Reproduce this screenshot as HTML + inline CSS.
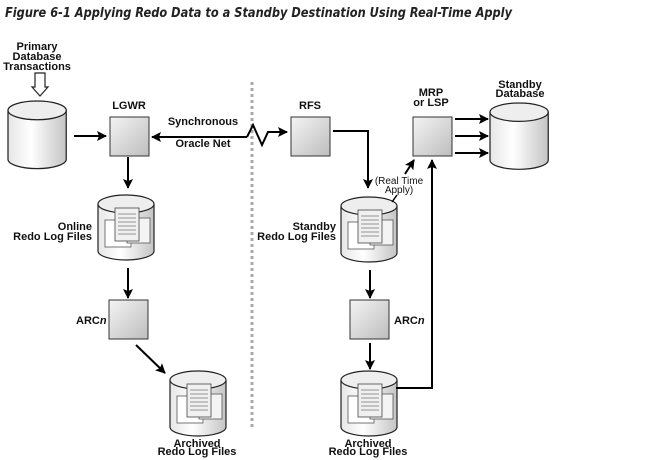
<!DOCTYPE html>
<html><head><meta charset="utf-8"><style>
html,body{margin:0;padding:0;background:#fff;}
svg{display:block;}
text{font-family:"Liberation Sans",Arial,sans-serif;font-weight:bold;font-size:11px;fill:#111;}
</style></head><body>
<svg width="661" height="460" viewBox="0 0 661 460" xmlns="http://www.w3.org/2000/svg">
<defs>
<linearGradient id="bx" x1="0" y1="0" x2="1" y2="1"><stop offset="0" stop-color="#f4f4f4"/><stop offset="1" stop-color="#bdbdbd"/></linearGradient>
<linearGradient id="cy" x1="0" y1="0" x2="1" y2="0"><stop offset="0" stop-color="#e6e6e6"/><stop offset="0.4" stop-color="#ffffff"/><stop offset="1" stop-color="#c4c4c4"/></linearGradient>
<marker id="ah" markerWidth="10" markerHeight="10" refX="9" refY="5" orient="auto" markerUnits="userSpaceOnUse"><path d="M0,0 L10,5 L0,10 L2,5 Z" fill="#000"/></marker>
<g id="cyl">
<path d="M0,9 L0,56 A28,9 0 0 0 56,56 L56,9" fill="url(#cy)" stroke="#222" stroke-width="1.2"/>
<ellipse cx="28" cy="9" rx="28" ry="9" fill="#eeeeee" stroke="#222" stroke-width="1.2"/>
</g>
<g id="docs">
<rect x="7" y="25" width="26" height="27" fill="#fff" stroke="#555" stroke-width="0.8"/>
<rect x="29" y="23" width="23" height="25" fill="#f4f4f4" stroke="#555" stroke-width="0.8"/>
<rect x="17" y="13" width="24" height="33" fill="#f0f0f0" stroke="#444" stroke-width="0.8"/>
<g stroke="#777" stroke-width="0.7"><line x1="20" y1="19" x2="38" y2="19"/><line x1="20" y1="23" x2="38" y2="23"/><line x1="20" y1="27" x2="38" y2="27"/><line x1="20" y1="31" x2="38" y2="31"/><line x1="20" y1="35" x2="38" y2="35"/><line x1="20" y1="39" x2="38" y2="39"/></g>
</g>
</defs>

<text x="5" y="17" style="font-family:'DejaVu Sans',sans-serif;font-style:italic;font-size:13px;fill:#222" textLength="507" lengthAdjust="spacingAndGlyphs">Figure 6-1 Applying Redo Data to a Standby Destination Using Real-Time Apply</text>

<line x1="252" y1="82" x2="252" y2="430" stroke="#aaa" stroke-width="3" stroke-dasharray="3,3"/>

<text x="37" y="50" text-anchor="middle">Primary</text>
<text x="37" y="60" text-anchor="middle">Database</text>
<text x="37" y="70" text-anchor="middle">Transactions</text>
<path d="M35,73 L45,73 L45,87 L48,87 L40,96 L32,87 L35,87 Z" fill="#fff" stroke="#222" stroke-width="1.2"/>
<use href="#cyl" transform="translate(8,101) scale(1.04,1.04)"/>
<line x1="74" y1="136" x2="106" y2="136" stroke="#000" stroke-width="2" marker-end="url(#ah)"/>

<text x="129" y="109" text-anchor="middle">LGWR</text>
<rect x="110" y="117" width="39" height="39" fill="url(#bx)" stroke="#333"/>
<text x="203" y="125" text-anchor="middle">Synchronous</text>
<text x="203" y="147" text-anchor="middle">Oracle Net</text>
<polyline points="247,137 152,137" fill="none" stroke="#000" stroke-width="2" marker-end="url(#ah)"/>
<polyline points="247,137 253,125 262,145 268,132 287,132" fill="none" stroke="#000" stroke-width="2" marker-end="url(#ah)"/>
<line x1="128" y1="157" x2="128" y2="188" stroke="#000" stroke-width="2" marker-end="url(#ah)"/>

<use href="#cyl" transform="translate(98,195)"/>
<use href="#docs" transform="translate(98,195)"/>
<text x="92" y="230" text-anchor="end">Online</text>
<text x="92" y="240" text-anchor="end">Redo Log Files</text>
<line x1="128" y1="268" x2="128" y2="298" stroke="#000" stroke-width="2" marker-end="url(#ah)"/>
<rect x="109" y="300" width="39" height="39" fill="url(#bx)" stroke="#333"/>
<text x="76" y="324">ARC<tspan font-style="italic">n</tspan></text>
<line x1="136" y1="345" x2="165" y2="373" stroke="#000" stroke-width="2" marker-end="url(#ah)"/>
<use href="#cyl" transform="translate(170,371)"/>
<use href="#docs" transform="translate(170,371)"/>
<text x="197" y="447" text-anchor="middle">Archived</text>
<text x="197" y="455" text-anchor="middle">Redo Log Files</text>

<text x="310" y="109" text-anchor="middle">RFS</text>
<rect x="291" y="117" width="39" height="39" fill="url(#bx)" stroke="#333"/>
<polyline points="333,131 368,131 368,188" fill="none" stroke="#000" stroke-width="2" marker-end="url(#ah)"/>
<use href="#cyl" transform="translate(341,197)"/>
<use href="#docs" transform="translate(341,197)"/>
<text x="336" y="230" text-anchor="end">Standby</text>
<text x="336" y="240" text-anchor="end">Redo Log Files</text>
<line x1="392" y1="202" x2="397" y2="195" stroke="#000" stroke-width="1.5"/>
<text x="399" y="184" text-anchor="middle" style="font-weight:normal;font-size:10px">(Real Time</text>
<text x="399" y="193" text-anchor="middle" style="font-weight:normal;font-size:10px">Apply)</text>
<line x1="405" y1="174" x2="414" y2="160" stroke="#000" stroke-width="2" marker-end="url(#ah)"/>
<line x1="370" y1="270" x2="370" y2="298" stroke="#000" stroke-width="2" marker-end="url(#ah)"/>
<rect x="350" y="300" width="39" height="39" fill="url(#bx)" stroke="#333"/>
<text x="394" y="324">ARC<tspan font-style="italic">n</tspan></text>
<line x1="370" y1="343" x2="370" y2="369" stroke="#000" stroke-width="2" marker-end="url(#ah)"/>
<use href="#cyl" transform="translate(341,371)"/>
<use href="#docs" transform="translate(341,371)"/>
<text x="368" y="447" text-anchor="middle">Archived</text>
<text x="368" y="455" text-anchor="middle">Redo Log Files</text>
<polyline points="396,388 432,388 432,160" fill="none" stroke="#000" stroke-width="2" marker-end="url(#ah)"/>

<text x="431" y="96" text-anchor="middle">MRP</text>
<text x="431" y="106" text-anchor="middle">or LSP</text>
<rect x="413" y="117" width="39" height="39" fill="url(#bx)" stroke="#333"/>
<line x1="455" y1="119" x2="488" y2="119" stroke="#000" stroke-width="2" marker-end="url(#ah)"/>
<line x1="455" y1="136" x2="488" y2="136" stroke="#000" stroke-width="2" marker-end="url(#ah)"/>
<line x1="455" y1="153" x2="488" y2="153" stroke="#000" stroke-width="2" marker-end="url(#ah)"/>
<text x="520" y="88" text-anchor="middle">Standby</text>
<text x="520" y="97" text-anchor="middle">Database</text>
<use href="#cyl" transform="translate(490,103) scale(1.04,1.02)"/>
</svg>
</body></html>
